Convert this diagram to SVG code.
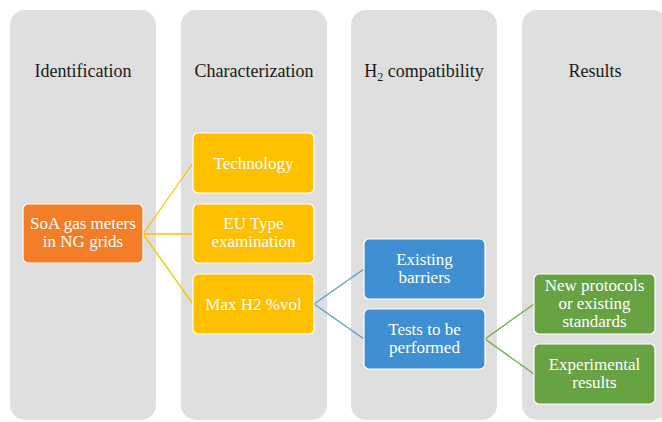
<svg xmlns="http://www.w3.org/2000/svg" width="662" height="422" viewBox="0 0 662 422" font-family="'Liberation Serif', 'DejaVu Serif', serif">
<style>
.col{fill:#dfdfdf}
.title{font-size:18px;fill:#1a1a1a;text-anchor:middle}
.box{stroke:#ffffff;stroke-width:1.2}
.t{font-size:17px;fill:#ffffff;text-anchor:middle}
.orange{fill:#f47e27}
.yellow{fill:#ffc000}
.blue{fill:#3f8fd2}
.green{fill:#67a243}
.cy{stroke:#ffc000;stroke-width:1.3;fill:none}
.cb{stroke:#5b9bd5;stroke-width:1.3;fill:none}
.cg{stroke:#70ad47;stroke-width:1.3;fill:none}
</style>
<rect width="662" height="422" fill="#ffffff"/>
<g id="col-identification">
<rect class="col" x="10" y="10" width="146" height="410" rx="15"/>
<text class="title" x="83" y="77" font-family="Liberation Serif">Identification</text>
</g>
<g id="col-characterization">
<rect class="col" x="181" y="10" width="146" height="410" rx="15"/>
<text class="title" x="254" y="77" font-family="Liberation Serif">Characterization</text>
</g>
<g id="col-h2">
<rect class="col" x="351" y="10" width="146" height="410" rx="15"/>
<text class="title" x="424" y="77" font-family="Liberation Serif">H<tspan font-size="12" dy="4">2</tspan><tspan dy="-4"> compatibility</tspan></text>
</g>
<g id="col-results">
<rect class="col" x="522" y="10" width="146" height="410" rx="15"/>
<text class="title" x="595" y="77" font-family="Liberation Serif">Results</text>
</g>
<g id="connectors">
<path class="cy" d="M143,234 L193,163 M143,234 L193,234 M143,234 L193,304"/>
<path class="cb" d="M314,304 L364,269 M314,304 L364,339"/>
<path class="cg" d="M485,339 L534,304 M485,339 L534,374"/>
</g>
<g id="n-soa" font-family="Liberation Serif">
<rect class="box orange" x="23" y="204" width="120" height="59" rx="5"/>
<text class="t" x="83" y="229">SoA gas meters</text>
<text class="t" x="83" y="247">in NG grids</text>
</g>
<g id="n-technology" font-family="Liberation Serif">
<rect class="box yellow" x="193" y="133" width="121" height="60" rx="5"/>
<text class="t" x="253.5" y="169">Technology</text>
</g>
<g id="n-eu" font-family="Liberation Serif">
<rect class="box yellow" x="193" y="204" width="121" height="59" rx="5"/>
<text class="t" x="253.5" y="229">EU Type</text>
<text class="t" x="253.5" y="247">examination</text>
</g>
<g id="n-max" font-family="Liberation Serif">
<rect class="box yellow" x="193" y="274" width="121" height="60" rx="5"/>
<text class="t" x="253.5" y="310">Max H2 %vol</text>
</g>
<g id="n-barriers" font-family="Liberation Serif">
<rect class="box blue" x="364" y="239" width="121" height="60" rx="5"/>
<text class="t" x="424.5" y="265">Existing</text>
<text class="t" x="424.5" y="283">barriers</text>
</g>
<g id="n-tests" font-family="Liberation Serif">
<rect class="box blue" x="364" y="309" width="121" height="60" rx="5"/>
<text class="t" x="424.5" y="335">Tests to be</text>
<text class="t" x="424.5" y="353">performed</text>
</g>
<g id="n-protocols" font-family="Liberation Serif">
<rect class="box green" x="534" y="274" width="121" height="60" rx="5"/>
<text class="t" x="594.5" y="291">New protocols</text>
<text class="t" x="594.5" y="309">or existing</text>
<text class="t" x="594.5" y="327">standards</text>
</g>
<g id="n-experimental" font-family="Liberation Serif">
<rect class="box green" x="534" y="344" width="121" height="60" rx="5"/>
<text class="t" x="594.5" y="370">Experimental</text>
<text class="t" x="594.5" y="388">results</text>
</g>
</svg>
